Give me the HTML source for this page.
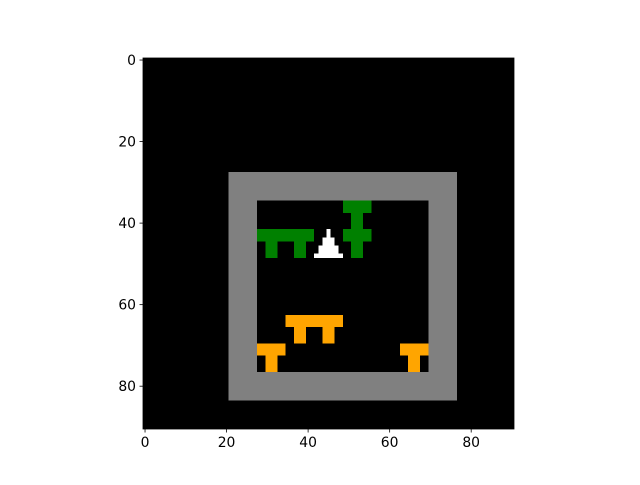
<!DOCTYPE html>
<html><head><meta charset="utf-8"><style>
html,body{margin:0;padding:0;background:#fff;}
svg text{font-family:"DejaVu Sans","Liberation Sans",sans-serif;font-size:13.9px;fill:#000;}
</style></head><body>
<svg id="chart" width="640" height="480" viewBox="0 0 640 480" xmlns="http://www.w3.org/2000/svg"></svg>
<script>
const gridSize = 91;
const xTicks = [0, 20, 40, 60, 80];
const yTicks = [0, 20, 40, 60, 80];
// blocks: [col, row, width, height, colorKey]
const grayBlocks = [[21, 28, 56, 56]];
const innerBlocks = [[28, 35, 42, 42]];
const greenBlocks = [[49,35,7,3],[51,38,3,4],[49,42,7,3],[51,45,3,4],[28,42,14,3],[30,45,3,4],[37,45,3,4]];
const whiteBlocks = [[45,42,1,2],[44,44,3,2],[43,46,5,2],[42,48,7,1]];
const orangeBlocks = [[35,63,14,3],[37,66,3,4],[44,66,3,4],[28,70,7,3],[30,73,3,4],[63,70,7,3],[65,73,3,4]];

const svg = document.getElementById('chart');
const NS = 'http://www.w3.org/2000/svg';
const x0 = 143, y0 = 58, size = 371, s = size / gridSize;
const xs = c => x0 + c * s;
const ys = r => y0 + r * s;

function rect(x, y, w, h, fill, name) {
  const r = document.createElementNS(NS, 'rect');
  r.setAttribute('x', x); r.setAttribute('y', y);
  r.setAttribute('width', w); r.setAttribute('height', h);
  r.setAttribute('fill', fill);
  r.setAttribute('shape-rendering', 'crispEdges');
  
  
  svg.appendChild(r);
}
rect(x0, y0, size, size, '#000', 'image-background');
function drawBlocks(arr, fill, name) {
  arr.forEach(b => rect(xs(b[0]), ys(b[1]), b[2] * s, b[3] * s, fill, name));
}
drawBlocks(grayBlocks, '#808080', 'gray-wall');
drawBlocks(innerBlocks, '#000', 'room-floor');
drawBlocks(greenBlocks, '#008000', 'green-object');
drawBlocks(whiteBlocks, '#ffffff', 'white-agent');
drawBlocks(orangeBlocks, '#ffa500', 'orange-object');

// axes frame
const frame = document.createElementNS(NS, 'rect');
frame.setAttribute('x', x0); frame.setAttribute('y', y0);
frame.setAttribute('width', size); frame.setAttribute('height', size);
frame.setAttribute('fill', 'none'); frame.setAttribute('stroke', '#000'); frame.setAttribute('stroke-width', '0.8');


svg.appendChild(frame);

function line(x1, y1, x2, y2, name) {
  const l = document.createElementNS(NS, 'line');
  l.setAttribute('x1', x1); l.setAttribute('y1', y1); l.setAttribute('x2', x2); l.setAttribute('y2', y2);
  l.setAttribute('stroke', '#000'); l.setAttribute('stroke-width', '0.8');
  
  
  svg.appendChild(l);
}
function text(x, y, str, anchor, name) {
  const t = document.createElementNS(NS, 'text');
  t.setAttribute('x', x); t.setAttribute('y', y); t.setAttribute('text-anchor', anchor);
  t.textContent = str;
  
  
  svg.appendChild(t);
}
xTicks.forEach(v => {
  const x = xs(v + 0.5);
  line(x, y0 + size, x, y0 + size + 3.5, 'x-tick');
  text(x, y0 + size + 18, String(v), 'middle', 'x-tick-label');
});
yTicks.forEach(v => {
  const y = ys(v + 0.5);
  line(x0 - 3.5, y, x0, y, 'y-tick');
  text(x0 - 7, y + 5, String(v), 'end', 'y-tick-label');
});
</script>
</body></html>
